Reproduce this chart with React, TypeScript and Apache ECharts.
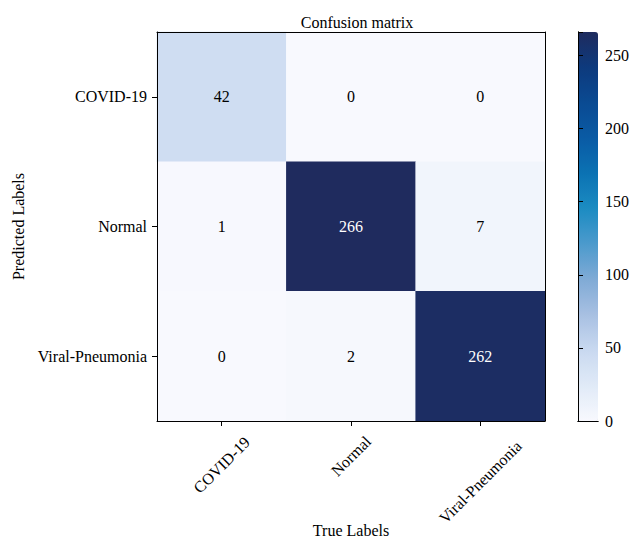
import React, { useEffect, useRef } from "react";
import * as echarts from "echarts";

const trueLabels = ["COVID-19", "Normal", "Viral-Pneumonia"];
const predictedLabels = ["COVID-19", "Normal", "Viral-Pneumonia"];
// rows = predicted, cols = true
const matrix = [
  [42, 0, 0],
  [1, 266, 7],
  [0, 2, 262],
];
const colorbarTicks = [0, 50, 100, 150, 200, 250];
const colorStops = [
  "#f8f9fe", "#e0eaf7", "#c9d9f0", "#a8c0e2", "#80abd6", "#4c9acd",
  "#1c8cc2", "#0b72b3", "#0a5ba5", "#0a4a92", "#0d3a7d", "#1f2b5e",
];

// layout: distance of rotated x-label centres below the axis
const xLabelCenterDist: Record<string, number> = {
  "COVID-19": 44,
  Normal: 35,
  "Viral-Pneumonia": 61,
};

const FONT = "Liberation Serif";

export default function App() {
  const ref = useRef<HTMLDivElement>(null);
  useEffect(() => {
    if (!ref.current) return;
    const chart = echarts.init(ref.current, undefined, { renderer: "svg" });
    const vmax = Math.max(...matrix.flat());
    const data: any[] = [];
    matrix.forEach((row, yi) =>
      row.forEach((v, xi) => {
        data.push({
          value: [xi, yi, v],
          label: { color: v > vmax / 2 ? "#ffffff" : "#000000", fontFamily: FONT, fontSize: 16 },
        });
      })
    );
    const margin = 6;
    const lh = 18;
    const axisText = { fontFamily: FONT, fontSize: 16, color: "#000" };
    const xData = trueLabels.map((l) => {
      const b = (xLabelCenterDist[l] - margin) / 1.4142;
      return {
        value: l,
        textStyle: {
          ...axisText,
          lineHeight: lh,
          align: "center",
          verticalAlign: "top",
          padding: [Math.max(0, b - lh / 2), 2 * b, 0, 0],
        },
      };
    });
    chart.setOption({
      animation: false,
      backgroundColor: "#ffffff",
      textStyle: { fontFamily: FONT },
      title: {
        text: "Confusion matrix",
        left: 352,
        textAlign: "center",
        top: 9,
        textStyle: { fontFamily: FONT, fontSize: 16, fontWeight: "normal", color: "#000" },
      },
      grid: [
        { left: 157, top: 32, width: 388, height: 389, outerBoundsMode: "none", containLabel: false },
        { left: 578, top: 32, width: 20, height: 389, outerBoundsMode: "none", containLabel: false },
      ],
      xAxis: [
        {
          type: "category",
          gridIndex: 0,
          data: xData,
          position: "bottom",
          z: 10,
          name: "True Labels",
          nameLocation: "middle",
          nameGap: 101,
          nameMoveOverlap: false,
          nameTextStyle: { ...axisText, verticalAlign: "top" },
          axisLine: { show: true, lineStyle: { color: "#000", width: 1 } },
          axisTick: { show: true, alignWithLabel: true, length: 5, lineStyle: { color: "#000" } },
          axisLabel: {
            ...axisText,
            lineHeight: lh,
            interval: 0,
            rotate: 45,
            align: "center",
            verticalAlign: "top",
            margin,
            hideOverlap: false,
          },
          splitLine: { show: false },
        },
        {
          type: "category",
          gridIndex: 0,
          data: trueLabels,
          position: "top",
          z: 10,
          axisLine: { show: true, lineStyle: { color: "#000", width: 1 } },
          axisTick: { show: false },
          axisLabel: { show: false },
        },
        {
          type: "value",
          gridIndex: 1,
          position: "bottom",
          min: 0,
          max: 1,
          z: 10,
          axisLine: { show: true, lineStyle: { color: "#000", width: 1 } },
          axisTick: { show: false },
          axisLabel: { show: false },
          splitLine: { show: false },
        },
        {
          type: "value",
          gridIndex: 1,
          position: "top",
          min: 0,
          max: 1,
          z: 10,
          axisLine: { show: true, lineStyle: { color: "#000", width: 1 } },
          axisTick: { show: false },
          axisLabel: { show: false },
          splitLine: { show: false },
        },
      ],
      yAxis: [
        {
          type: "category",
          gridIndex: 0,
          data: predictedLabels,
          inverse: true,
          position: "left",
          z: 10,
          name: "Predicted Labels",
          nameLocation: "middle",
          nameGap: 131,
          nameRotate: 90,
          nameMoveOverlap: false,
          nameTextStyle: axisText,
          axisLine: { show: true, lineStyle: { color: "#000", width: 1 } },
          axisTick: { show: true, alignWithLabel: true, length: 5, lineStyle: { color: "#000" } },
          axisLabel: { ...axisText, margin: 10, interval: 0 },
          splitLine: { show: false },
        },
        {
          type: "category",
          gridIndex: 0,
          data: predictedLabels,
          inverse: true,
          position: "right",
          z: 10,
          axisLine: { show: true, lineStyle: { color: "#000", width: 1 } },
          axisTick: { show: false },
          axisLabel: { show: false },
        },
        {
          type: "value",
          gridIndex: 1,
          position: "right",
          min: 0,
          max: vmax,
          interval: 50,
          z: 10,
          axisLine: { show: true, lineStyle: { color: "#000", width: 1 } },
          axisTick: { show: true, length: 5, lineStyle: { color: "#000" } },
          axisLabel: {
            ...axisText,
            margin: 7,
            formatter: (v: number) => (colorbarTicks.includes(v) ? String(v) : ""),
          },
          splitLine: { show: false },
        },
        {
          type: "value",
          gridIndex: 1,
          position: "left",
          min: 0,
          max: vmax,
          z: 10,
          axisLine: { show: true, lineStyle: { color: "#000", width: 1 } },
          axisTick: { show: false },
          axisLabel: { show: false },
          splitLine: { show: false },
        },
      ],
      visualMap: {
        type: "continuous",
        min: 0,
        max: vmax,
        orient: "vertical",
        left: 578,
        top: 32,
        itemWidth: 20,
        itemHeight: 389,
        padding: 0,
        calculable: false,
        hoverLink: false,
        showLabel: false,
        seriesIndex: 0,
        inRange: { color: colorStops },
        textStyle: { color: "transparent", fontSize: 1 },
      },
      series: [
        {
          type: "heatmap",
          xAxisIndex: 0,
          yAxisIndex: 0,
          data,
          itemStyle: { borderWidth: 0 },
          label: { show: true, fontFamily: FONT, fontSize: 16 },
          emphasis: { disabled: true },
        },
        {
          type: "scatter",
          xAxisIndex: 2,
          yAxisIndex: 2,
          data: [],
          silent: true,
        },
      ],
    });
    return () => chart.dispose();
  }, []);
  return (
    <div
      ref={ref}
      style={{ position: "fixed", left: 0, top: 0, width: 632, height: 545 }}
    />
  );
}
